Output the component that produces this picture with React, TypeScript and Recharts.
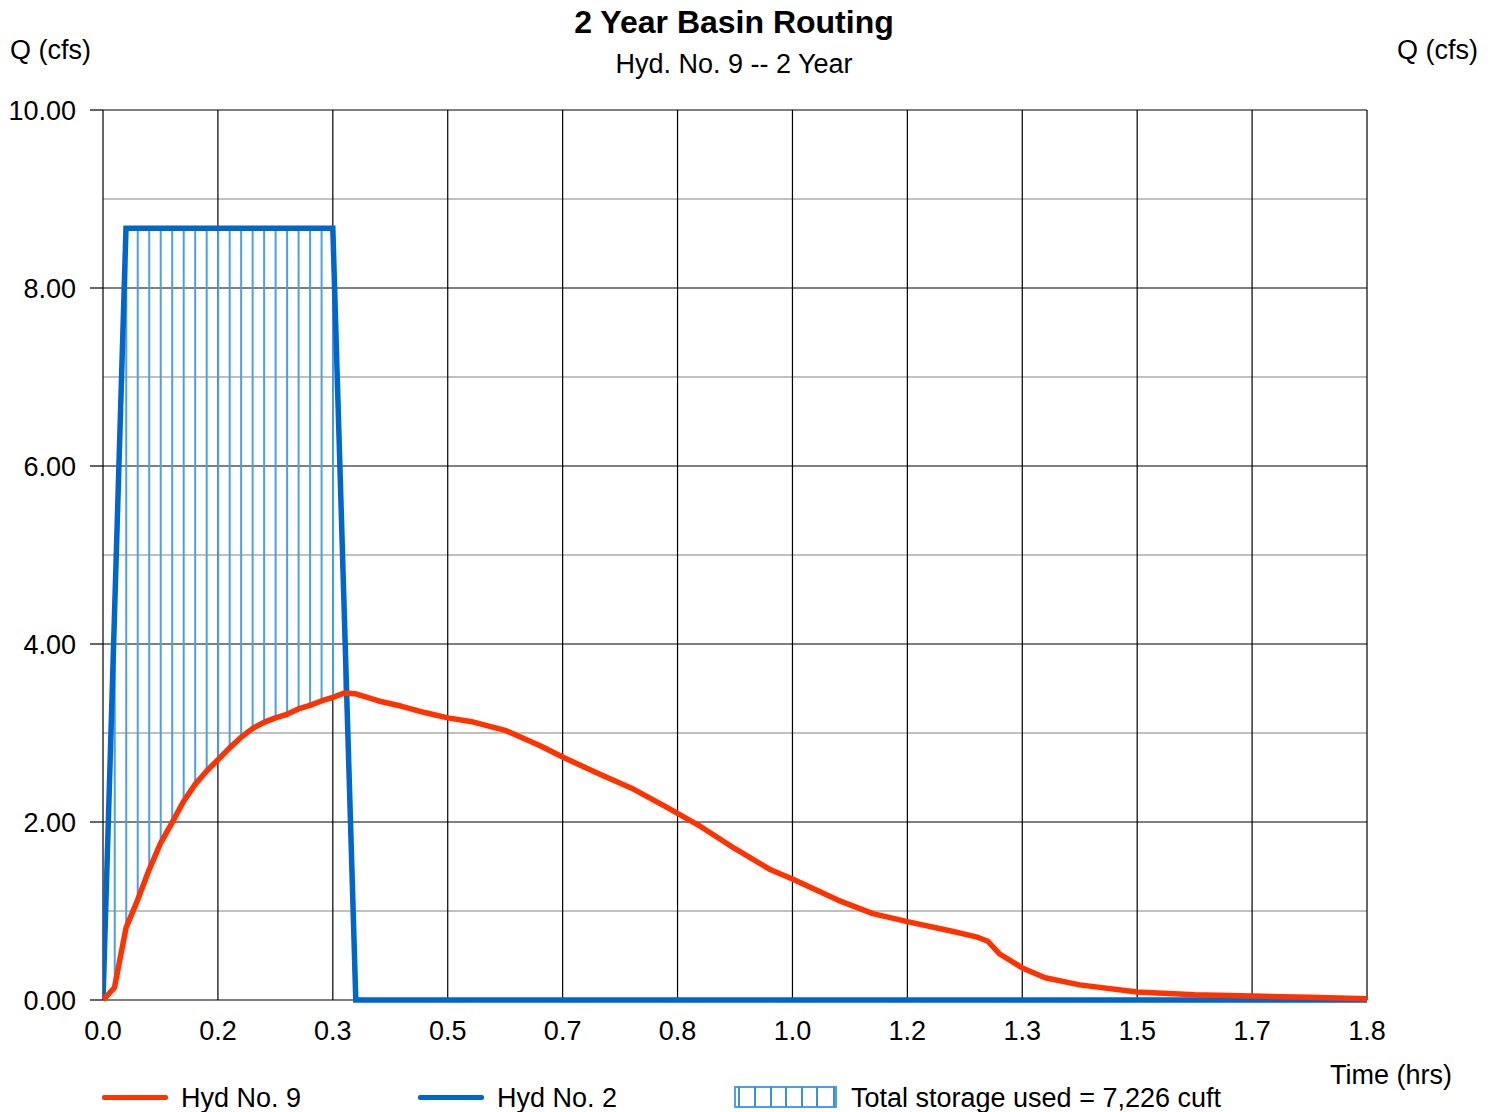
import {
  ComposedChart,
  Line,
  Bar,
  XAxis,
  YAxis,
  CartesianGrid,
} from "recharts";

// time in minutes, flows in cfs
const inflowTimes = [
  0, 1, 2, 3, 4, 5, 6, 7, 8, 9, 10, 11, 12, 13, 14, 15, 16, 17, 18, 19, 20, 21,
  22, 110,
];
const inflowQ = [
  0, 4.33, 8.67, 8.67, 8.67, 8.67, 8.67, 8.67, 8.67, 8.67, 8.67, 8.67, 8.67,
  8.67, 8.67, 8.67, 8.67, 8.67, 8.67, 8.67, 8.67, 4.33, 0, 0,
];

const outflowTimes = [
  0, 1, 2, 3, 4, 5, 6, 7, 8, 9, 10, 11, 12, 13, 14, 15, 16, 17, 18, 19, 20, 21,
  22, 24, 26, 28, 30, 32, 35, 38, 40, 43, 46, 49, 52, 55, 58, 60, 64, 67, 70,
  74, 76, 77, 78, 80, 82, 85, 90, 95, 100, 105, 110,
];
const outflowQ = [
  0, 0.14, 0.81, 1.12, 1.46, 1.76, 1.99, 2.23, 2.42, 2.57, 2.7, 2.83, 2.95,
  3.05, 3.12, 3.17, 3.21, 3.27, 3.31, 3.36, 3.4, 3.45, 3.44, 3.36, 3.3, 3.23,
  3.17, 3.13, 3.03, 2.86, 2.73, 2.55, 2.38, 2.17, 1.95, 1.7, 1.47, 1.36, 1.12,
  0.97, 0.88, 0.77, 0.71, 0.66, 0.52, 0.36, 0.25, 0.17, 0.09, 0.06, 0.045,
  0.03, 0.015,
];

const xTicks = [0, 10, 20, 30, 40, 50, 60, 70, 80, 90, 100, 110];
const yTicks = [0, 2, 4, 6, 8, 10];
const yMinor = [1, 3, 5, 7, 9];

const FONT = "'Liberation Sans', Arial, sans-serif";
const TXT = 27;
const RED = "#ff3300";
const BLUE = "#0066cc";
const HATCH = "#4aa0e4";

const inflowData = inflowTimes.map((t, i) => ({ t, q: inflowQ[i] }));
const outflowData = outflowTimes.map((t, i) => ({ t, q: outflowQ[i] }));

// storage hatch: one vertical stroke per minute where inflow exceeds outflow
const storageData = inflowTimes
  .map((t, i) => {
    const j = outflowTimes.indexOf(t);
    if (j < 0) return null;
    const qin = inflowQ[i];
    const qout = outflowQ[j];
    return qin > qout ? { t, range: [qout, qin] } : null;
  })
  .filter(Boolean) as { t: number; range: number[] }[];

const label = (
  text: string,
  x: number,
  y: number,
  opts: { size?: number; bold?: boolean; align?: "left" | "center" | "right" } = {}
) => {
  const { size = TXT, bold = false, align = "left" } = opts;
  const tx = align === "center" ? "-50%" : align === "right" ? "-100%" : "0";
  return (
    <div
      style={{
        position: "absolute",
        left: x,
        top: y,
        transform: `translate(${tx}, -50%)`,
        fontSize: size,
        fontWeight: bold ? 700 : 400,
        lineHeight: 1,
        whiteSpace: "nowrap",
        color: "#000",
      }}
    >
      {text}
    </div>
  );
};

function HatchSwatch() {
  const xs = [5, 21, 37, 52, 68, 83, 100];
  return (
    <svg width={104} height={22} style={{ position: "absolute", left: 734, top: 1086 }}>
      <rect x={1} y={1} width={101} height={20} fill="none" stroke={HATCH} strokeWidth={2} />
      {xs.map((x) => (
        <line key={x} x1={x} x2={x} y1={1} y2={21} stroke="#3d8fd6" strokeWidth={2} />
      ))}
    </svg>
  );
}

const tickStyle = { fontSize: TXT, fill: "#000", fontFamily: FONT };

export default function App() {
  return (
    <div
      style={{
        position: "absolute",
        left: 0,
        top: 0,
        width: 1496,
        height: 1112,
        background: "#fff",
        fontFamily: FONT,
      }}
    >
      <ComposedChart
        width={1496}
        height={1112}
        data={storageData}
        margin={{ top: 110, right: 13, bottom: 72, left: 13 }}
      >
        <CartesianGrid
          yAxisId="left"
          stroke="#c0c0c0"
          strokeWidth={2}
          vertical={false}
          horizontalValues={yMinor}
        />
        <CartesianGrid yAxisId="left" stroke="#000" strokeWidth={1.2} />
        <XAxis
          dataKey="t"
          type="number"
          domain={[0, 110]}
          ticks={xTicks}
          allowDataOverflow
          tickFormatter={(m: number) => (m / 60).toFixed(1)}
          axisLine={false}
          tickLine={false}
          tickSize={0}
          tickMargin={21}
          height={40}
          tick={tickStyle}
        />
        <YAxis
          yAxisId="left"
          domain={[0, 10]}
          ticks={yTicks}
          tickFormatter={(v: number) => v.toFixed(2)}
          width={90}
          axisLine={false}
          tickLine={{ stroke: "#000", strokeWidth: 1.2 }}
          tickSize={13}
          tickMargin={14}
          tick={tickStyle}
        />
        <YAxis
          yAxisId="right"
          orientation="right"
          domain={[0, 10]}
          ticks={yTicks}
          tickFormatter={(v: number) => v.toFixed(2)}
          width={116}
          axisLine={false}
          tickLine={{ stroke: "#000", strokeWidth: 1.2 }}
          tickSize={13}
          tickMargin={17}
          tick={tickStyle}
        />
        <Bar
          yAxisId="left"
          dataKey="range"
          barSize={2}
          fill={HATCH}
          isAnimationActive={false}
        />
        <Line
          yAxisId="left"
          data={inflowData}
          dataKey="q"
          type="linear"
          stroke={BLUE}
          strokeWidth={5.5}
          dot={false}
          activeDot={false}
          isAnimationActive={false}
        />
        <Line
          yAxisId="left"
          data={outflowData}
          dataKey="q"
          type="linear"
          stroke={RED}
          strokeWidth={5.5}
          strokeLinejoin="round"
          dot={false}
          activeDot={false}
          isAnimationActive={false}
        />
      </ComposedChart>

      {label("2 Year Basin Routing", 734, 22, { size: 32, bold: true, align: "center" })}
      {label("Hyd. No. 9 -- 2 Year", 734, 64, { align: "center" })}
      {label("Q (cfs)", 10, 50)}
      {label("Q (cfs)", 1478, 50, { align: "right" })}
      {label("Time (hrs)", 1452, 1075, { align: "right" })}

      <div style={{ position: "absolute", left: 102, top: 1095, width: 66, height: 5, background: RED, borderRadius: 2 }} />
      {label("Hyd No. 9", 181, 1098)}
      <div style={{ position: "absolute", left: 418, top: 1095, width: 66, height: 5, background: BLUE, borderRadius: 2 }} />
      {label("Hyd No. 2", 497, 1098)}
      <HatchSwatch />
      {label("Total storage used = 7,226 cuft", 851, 1098)}
    </div>
  );
}
